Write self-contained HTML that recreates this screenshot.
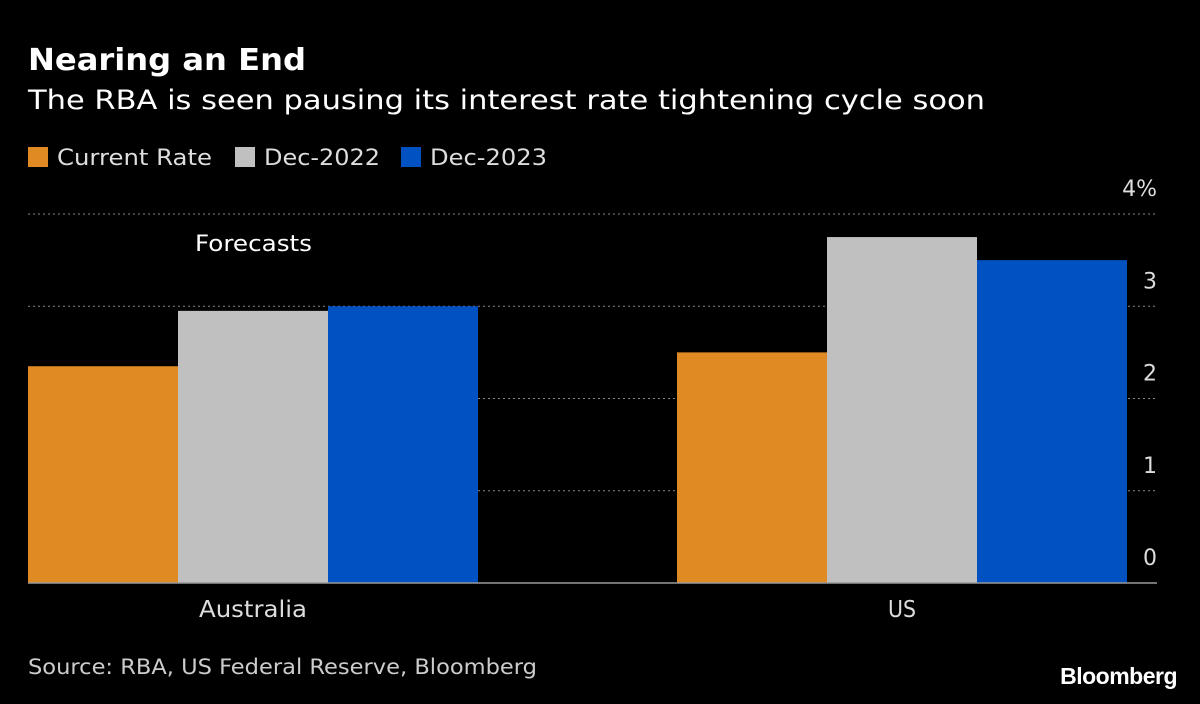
<!DOCTYPE html>
<html><head><meta charset="utf-8"><style>
body{margin:0;background:#000;width:1200px;height:700px;overflow:hidden;font-family:"DejaVu Sans","Liberation Sans",sans-serif;color:#fff}
svg text{font-family:"DejaVu Sans","Liberation Sans",sans-serif}
</style></head><body>
<svg width="1200" height="700" xmlns="http://www.w3.org/2000/svg">
<rect width="1200" height="700" fill="#000"/>
<text x="28" y="70" font-size="30" font-weight="bold" fill="#fff" textLength="278" lengthAdjust="spacingAndGlyphs">Nearing an End</text>
<text x="28" y="109" font-size="27" fill="#fff" textLength="957" lengthAdjust="spacingAndGlyphs">The RBA is seen pausing its interest rate tightening cycle soon</text>
<g id="legend"></g>
<g id="grid"></g>
<g id="bars"></g>
<text x="195" y="251" font-size="22" fill="#fff" textLength="117" lengthAdjust="spacingAndGlyphs">Forecasts</text>
<text x="28" y="674" font-size="21" fill="#ccc" textLength="509" lengthAdjust="spacingAndGlyphs">Source: RBA, US Federal Reserve, Bloomberg</text>
<text x="1177" y="684" font-size="23" font-weight="bold" fill="#fff" text-anchor="end" style="font-family:'Liberation Sans',sans-serif" letter-spacing="-0.5">Bloomberg</text>
</svg>
<script>
const categories=["Australia","US"];
const seriesNames=["Current Rate","Dec-2022","Dec-2023"];
const seriesColors=["#e08a24","#c0c0c0","#0051c2"];
const currentRate=[2.35,2.5];
const dec2022=[2.95,3.75];
const dec2023=[3.0,3.5];
const ticks=[0,1,2,3,4];
const tickLabels=["0","1","2","3","4%"];
const ns="http://www.w3.org/2000/svg";
const y0=583,pxPerUnit=92.25,left=28,right=1157,bandStep=649,barW=150;
const y=v=>y0-v*pxPerUnit;
const xBand=i=>left+i*bandStep;
function mk(tag,attrs,parent){const e=document.createElementNS(ns,tag);for(const k in attrs)e.setAttribute(k,attrs[k]);parent.appendChild(e);return e;}
const grid=document.getElementById('grid');
ticks.forEach((t,i)=>{
  if(t>0){const l=mk('line',{x1:left,x2:right,y1:y(t),y2:y(t),stroke:'#888','stroke-width':1,'stroke-dasharray':'2,3'},grid);
  
  }
  const tx=mk('text',{x:right,y:y(t)-18,'font-size':22,fill:'#ddd','text-anchor':'end'},grid);
  tx.textContent=tickLabels[i];
  
  
});
const bars=document.getElementById('bars');
const series=[currentRate,dec2022,dec2023];
series.forEach((s,si)=>s.forEach((v,ci)=>{
  const r=mk('rect',{x:xBand(ci)+si*barW,y:y(v),width:barW,height:y0-y(v),fill:seriesColors[si]},bars);
  
  
}));
const base=mk('line',{x1:left,x2:right,y1:y0,y2:y0,stroke:'#999','stroke-width':1.5},bars);


const xLabelW=[108,28];
categories.forEach((c,ci)=>{
  const t=mk('text',{x:xBand(ci)+225,y:617,'font-size':23,fill:'#ddd','text-anchor':'middle',textLength:xLabelW[ci],lengthAdjust:'spacingAndGlyphs'},bars);
  t.textContent=c;
  
  
});
const lg=document.getElementById('legend');
const legendX=[28,235,401];
const legendTextW=[155,116,117];
seriesNames.forEach((n,i)=>{
  const lx=legendX[i];
  const r=mk('rect',{x:lx,y:147,width:20,height:20,fill:seriesColors[i]},lg);
  
  
  const t=mk('text',{x:lx+29,y:165,'font-size':22,fill:'#ddd',textLength:legendTextW[i],lengthAdjust:'spacingAndGlyphs'},lg);
  t.textContent=n;
  
  
});
</script>
</body></html>
